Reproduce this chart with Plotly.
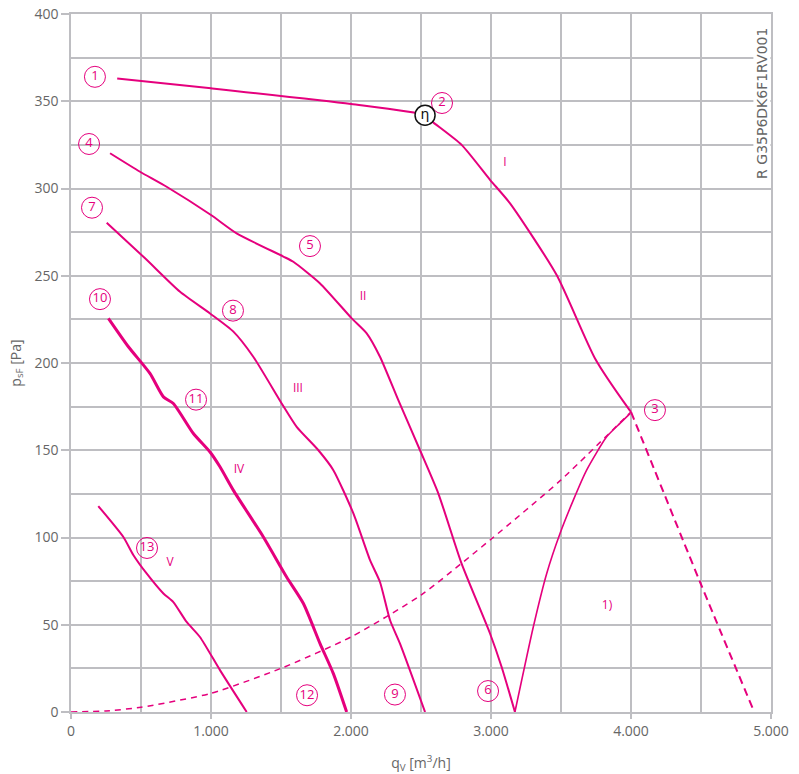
import plotly.graph_objects as go

MAGENTA = "#e5007d"
GRID = "#bebec2"
TEXT = "#666666"

# Curve I (solid up to point 3), then dashed continuation
c1_x = [330, 1000, 2000, 2529, 2576, 2790, 2993, 3136, 3469, 3743, 3981, 4000]
c1_y = [363, 357.4, 348.4, 342, 338.6, 325, 305, 291.5, 250.4, 202.6, 174, 172]
c1d_x = [4000, 4493, 4880]
c1d_y = [172, 74.5, 0]

# Curve II
c2_x = [279, 493, 683, 1000, 1183, 1517, 1588, 1779, 2005, 2112, 2207, 2338, 2493, 2624, 2790, 2993, 3076, 3171]
c2_y = [320.2, 309.6, 301, 284.8, 274.3, 261, 258, 245.6, 225.6, 217, 203.6, 178.7, 150, 125.2, 85, 45, 25.8, 0]

# Curve III
c3_x = [255, 529, 779, 993, 1160, 1302, 1505, 1612, 1767, 1874, 2017, 2136, 2207, 2279, 2350, 2529]
c3_y = [280.4, 260, 240.8, 228.4, 218, 203.6, 176.8, 163.4, 150, 138.6, 113.8, 87, 74.5, 52.6, 39.2, 0]

# Curve IV
c4_x = [267, 410, 564, 660, 731, 874, 993, 1064, 1160, 1374, 1540, 1660, 1779, 1874, 1969]
c4_y = [225.6, 209.3, 194, 180.6, 176.8, 159.6, 149, 140.5, 127, 100.3, 77.4, 62.2, 39.2, 22, 0]

# Curve V
c5_x = [195, 374, 445, 540, 660, 731, 826, 921, 1064, 1255]
c5_y = [118, 100.3, 90, 79.4, 67.9, 63, 51.6, 43, 24, 0]

# Boundary curve 6 -> 3
cb_x = [3171, 3302, 3398, 3493, 3588, 3683, 3826, 3921, 3993]
cb_y = [0, 48.7, 79.4, 102.3, 121.4, 138.6, 157.7, 165.4, 171]

# System (dashed) curve
cs_x = [0, 250, 500, 1000, 1500, 2000, 2500, 3000, 3500, 4000]
cs_y = [0, 0.6, 2.7, 10.7, 25, 43, 67, 99, 133, 172]

# Numbered markers
num_x = [171, 2650, 4171, 129, 1707, 2979, 150, 1157, 2314, 207, 893, 1686, 543]
num_y = [364, 349, 173, 325.5, 267, 12, 289, 230, 10, 236.6, 179, 9.6, 94]
num_t = ["1", "2", "3", "4", "5", "6", "7", "8", "9", "10", "11", "12", "13"]

# Roman numeral labels
rom_x = [3100, 2086, 1621, 1200, 707, 3829]
rom_y = [314.5, 237.8, 185, 138.6, 85.3, 61]
rom_t = ["I", "II", "III", "IV", "V", "1)"]

eta_x = [2529]
eta_y = [342]

x_ticks = [0, 1000, 2000, 3000, 4000, 5000]
y_ticks = [0, 50, 100, 150, 200, 250, 300, 350, 400]

fig = go.Figure()

def line(x, y, w=2, dash="solid", shape="spline"):
    fig.add_trace(go.Scatter(x=x, y=y, mode="lines", hoverinfo="skip",
                             line=dict(color=MAGENTA, width=w, dash=dash,
                                       shape=shape, smoothing=0.6)))

line(cs_x, cs_y, 1.5, "6px,5px")
line(c1_x, c1_y, 2)
line(c1d_x, c1d_y, 2, "8px,5px")
line(c2_x, c2_y, 2)
line(c3_x, c3_y, 2)
line(c4_x, c4_y, 3)
line(c5_x, c5_y, 2)
line(cb_x, cb_y, 1.6)

fig.add_trace(go.Scatter(
    x=num_x, y=num_y, mode="markers+text", text=num_t,
    textposition="middle center", hoverinfo="skip",
    textfont=dict(color=MAGENTA, size=13, family="Open Sans"),
    marker=dict(symbol="circle", size=21, color="rgba(255,255,255,0)",
                line=dict(color=MAGENTA, width=1))))

fig.add_trace(go.Scatter(
    x=eta_x, y=eta_y, mode="markers+text", text=["η"],
    textposition="middle center", hoverinfo="skip",
    textfont=dict(color="#111111", size=14, family="DejaVu Sans"),
    marker=dict(symbol="circle", size=20, color="white",
                line=dict(color="#111111", width=1.5))))

fig.add_trace(go.Scatter(
    x=rom_x, y=rom_y, mode="text", text=rom_t,
    textposition="middle center", hoverinfo="skip",
    textfont=dict(color=MAGENTA, size=12, family="Open Sans")))

fig.add_annotation(x=4935, y=349, text="R G35P6DK6F1RV001", textangle=-90,
                   showarrow=False, bgcolor="white", borderpad=0,
                   font=dict(color=TEXT, size=14, family="DejaVu Sans"))

axis_common = dict(
    showgrid=True, gridcolor=GRID, gridwidth=1.5,
    showline=True, linecolor=GRID, linewidth=1.5, mirror=True,
    zeroline=False, ticks="outside", tickcolor=GRID, tickwidth=1.5,
    tickfont=dict(color=TEXT, size=14, family="Open Sans"),
    automargin=False, ticklabeloverflow="allow",
)

fig.update_layout(
    width=799, height=774,
    margin=dict(l=71, r=28, t=14, b=62),
    plot_bgcolor="white", paper_bgcolor="white",
    showlegend=False,
    separators=",.",
    font=dict(family="Open Sans", color=TEXT),
    xaxis=dict(range=[0, 5000], tickvals=x_ticks, tickformat=",d", ticklen=5,
               minor=dict(dtick=500, showgrid=True, gridcolor=GRID, gridwidth=1.5, ticks=""),
               title=dict(text="q<sub>V</sub> [m<sup>3</sup>/h]", font=dict(size=14, color=TEXT), standoff=20),
               **axis_common),
    yaxis=dict(range=[0, 400], tickvals=y_ticks, ticklen=8,
               minor=dict(dtick=25, showgrid=True, gridcolor=GRID, gridwidth=1.5, ticks=""),
               title=dict(text="p<sub>sF</sub> [Pa]", font=dict(size=14, color=TEXT), standoff=10),
               **axis_common),
)

fig.write_html("out.html", config={"displayModeBar": False},
               post_script="document.body.style.margin='0';document.body.style.padding='0';")
